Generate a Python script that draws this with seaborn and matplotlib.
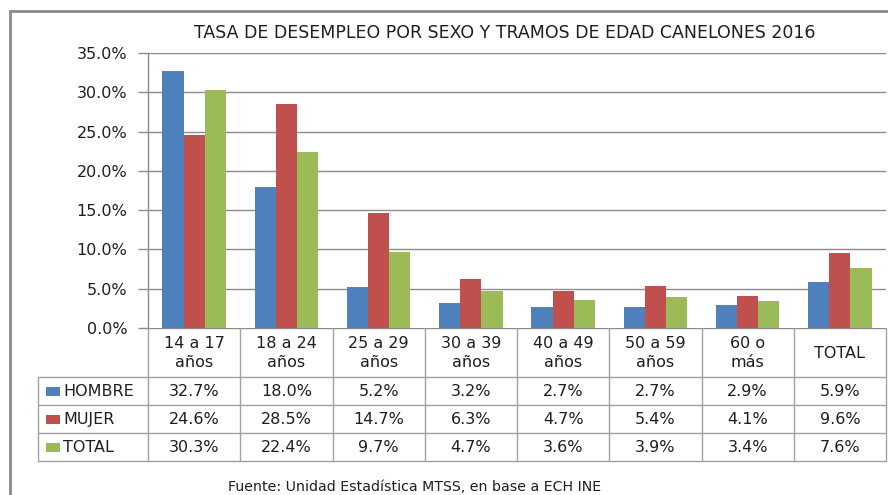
import numpy as np
import pandas as pd
import matplotlib
matplotlib.use("Agg")
import matplotlib.pyplot as plt
import seaborn as sns
from matplotlib.patches import Rectangle
from matplotlib.lines import Line2D

# data
categorias = ["14 a 17\naños", "18 a 24\naños", "25 a 29\naños", "30 a 39\naños",
              "40 a 49\naños", "50 a 59\naños", "60 o\nmás", "TOTAL"]
hombre = [32.7, 18.0, 5.2, 3.2, 2.7, 2.7, 2.9, 5.9]
mujer = [24.6, 28.5, 14.7, 6.3, 4.7, 5.4, 4.1, 9.6]
total = [30.3, 22.4, 9.7, 4.7, 3.6, 3.9, 3.4, 7.6]
series = ["HOMBRE", "MUJER", "TOTAL"]
colores = ["#4F81BD", "#C0504D", "#9BBB59"]
yticks = [0, 5, 10, 15, 20, 25, 30, 35]

titulo = "TASA DE DESEMPLEO POR SEXO Y TRAMOS DE EDAD CANELONES 2016"
fuente = "Fuente: Unidad Estadística MTSS, en base a ECH INE"

df = pd.DataFrame({
    "cat": categorias * 3,
    "serie": [s for s in series for _ in categorias],
    "valor": hombre + mujer + total,
})

sns.set_theme(style="white")
plt.rcParams["font.family"] = ["DejaVu Sans"]

W, H = 888, 495
fig = plt.figure(figsize=(W / 100, H / 100), dpi=100)
fig.patch.set_facecolor("white")

def box(x0, y0, x1, y1):
    # pixel box (top-down) -> figure fraction rect
    return [x0 / W, 1 - y1 / H, (x1 - x0) / W, (y1 - y0) / H]

grid_col = "#8C8C8C"
line_col = "#A0A0A0"
txt_col = "#1E1E1E"
fs = 11.5

# bar chart
ax = fig.add_axes(box(148, 53, 886, 328))
sns.barplot(data=df, x="cat", y="valor", hue="serie", palette=colores,
            width=0.69, gap=0, saturation=1, legend=False, ax=ax,
            edgecolor="none", linewidth=0)
ax.set_xlim(-0.5, len(categorias) - 0.5)
ax.set_ylim(0, 35)
ax.set_yticks(yticks)
ax.set_yticklabels([f"{v:.1f}%" for v in yticks], fontsize=fs, color=txt_col)
ax.set_xticks([])
ax.set_xlabel("")
ax.set_ylabel("")
for v in yticks[1:]:
    ax.axhline(v, color=grid_col, lw=1, zorder=0)
for s in ["top", "right", "bottom"]:
    ax.spines[s].set_visible(False)
ax.spines["left"].set_color(grid_col)
ax.spines["left"].set_linewidth(1)
ax.tick_params(axis="y", length=7, width=1, color=grid_col, pad=8, left=True)
ax.patch.set_alpha(0)

# data table under the chart
tab = fig.add_axes(box(148, 328, 886, 461))
tab.set_xlim(-0.5, len(categorias) - 0.5)
tab.set_ylim(461, 328)
tab.axis("off")
colw = 738 / len(categorias)
leg_left = -0.5 - (148 - 38) / colw
row_y = [377, 405, 433, 461]

tab.add_line(Line2D([-0.5, len(categorias) - 0.5], [328, 328], color=grid_col, lw=1))
for y in row_y:
    tab.add_line(Line2D([leg_left, len(categorias) - 0.5], [y, y], color=line_col, lw=1, clip_on=False))
for i in range(len(categorias) + 1):
    tab.add_line(Line2D([i - 0.5, i - 0.5], [328, 461], color=line_col, lw=1, clip_on=False))
tab.add_line(Line2D([leg_left, leg_left], [377, 461], color=line_col, lw=1, clip_on=False))

for i, c in enumerate(categorias):
    tab.text(i, 353, c, ha="center", va="center", fontsize=fs, color=txt_col,
             linespacing=1.3)

valores = [hombre, mujer, total]
for r, (nombre, col, vals) in enumerate(zip(series, colores, valores)):
    yc = (row_y[r] + row_y[r + 1]) / 2
    tab.add_patch(Rectangle((leg_left + 8 / colw, yc - 4.5), 14 / colw, 9, facecolor=col,
                            edgecolor="none", clip_on=False))
    tab.text(leg_left + 25 / colw, yc + 0.5, nombre, ha="left", va="center",
             fontsize=fs, color=txt_col, clip_on=False)
    for i, v in enumerate(vals):
        tab.text(i, yc + 0.5, f"{v:.1f}%", ha="center", va="center",
                 fontsize=fs, color=txt_col)

# outer frame, title and source
fig.add_artist(Line2D([10 / W, 1], [1 - 11 / H, 1 - 11 / H], color="#8A8A8A", lw=2))
fig.add_artist(Line2D([10 / W, 10 / W], [1 - 11 / H, 0], color="#8A8A8A", lw=2))
fig.text(505 / W, 1 - 33 / H, titulo, ha="center", va="center", fontsize=12.5, color=txt_col)
fig.text(415 / W, 1 - 487 / H, fuente, ha="center", va="center", fontsize=10.2, color=txt_col)

fig.savefig("out.png", dpi=100, facecolor="white")
